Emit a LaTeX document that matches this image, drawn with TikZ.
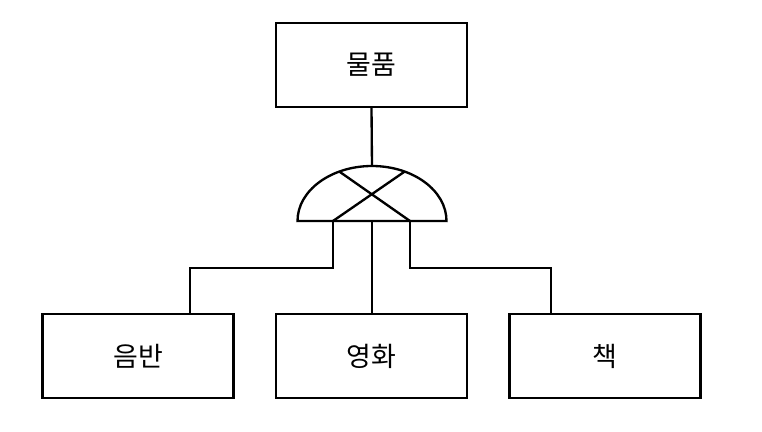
\documentclass[tikz,border=0pt]{standalone}
\usepackage{fontspec}
\newfontfamily\kr{Noto Sans CJK KR}
\usetikzlibrary{positioning,calc}
\tikzset{
  ent/.style={draw, line width=2pt, minimum width=5.73cm, minimum height=2.52cm,
    inner sep=0pt, font=\kr\fontsize{23}{27}\selectfont},
  ln/.style={line width=2pt}
}
\begin{document}
\begin{tikzpicture}
\useasboundingbox (0,0) rectangle (22.86,12.96);
\node[ent] (item) at (11.145,11.01) {물품};
\node[ent] (movie) at (11.145,2.28) {영화};
\node[ent, left=1.2cm of movie] (album) {음반};
\node[ent, right=1.2cm of movie] (book) {책};
% gate
\coordinate (g) at (11.16,6.33);
\draw[ln] ($(g)+(-2.235,0)$) arc[start angle=180, end angle=0, x radius=2.235, y radius=1.65] -- cycle;
\coordinate (gl) at ($(g)+(-1.17,0)$);
\coordinate (gr) at ($(g)+(1.14,0)$);
\draw[ln] (gl) -- ($(g)+(64:2.235 and 1.65)$);
\draw[ln] (gr) -- ($(g)+(116:2.235 and 1.65)$);
\draw[ln] (item.south) -- ($(g)+(0,1.65)$);
\draw[ln] (g) -- (g |- movie.north);
\draw[ln] (gl) -- ++(0,-1.41) -| ([xshift=1.56cm]album.north);
\draw[ln] (gr) -- ++(0,-1.41) -| ([xshift=-1.61cm]book.north);
\end{tikzpicture}
\end{document}
